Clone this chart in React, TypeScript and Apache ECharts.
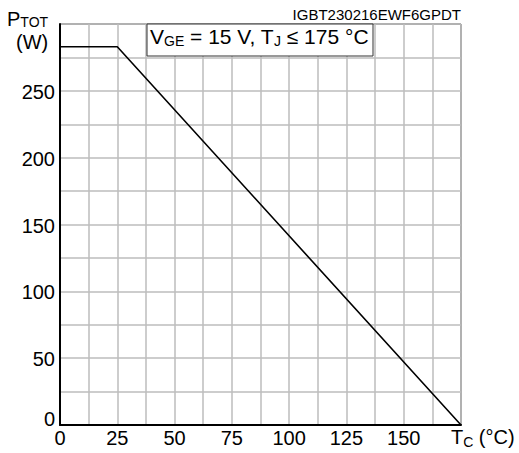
import React, { useEffect, useRef } from "react";
import * as echarts from "echarts";

const tempC = [0, 25, 175];
const powerW = [283, 283, 0];
const xTickLabels = ["0", "25", "50", "75", "100", "125", "150"];
const yTickLabels = ["0", "50", "100", "150", "200", "250"];
const partId = "IGBT230216EWF6GPDT";

const FONT = "Arial, 'Liberation Sans', sans-serif";

export default function App() {
  const ref = useRef<HTMLDivElement>(null);
  useEffect(() => {
    if (!ref.current) return;
    const chart = echarts.init(ref.current, null, { renderer: "svg" });
    const option: any = {
      animation: false,
      backgroundColor: "#ffffff",
      textStyle: { fontFamily: FONT },
      grid: {
        left: 60,
        right: 58,
        top: 24,
        bottom: 28,
        show: true,
        borderColor: "#222",
        borderWidth: 1,
      },
      xAxis: {
        type: "value",
        min: 0,
        max: 175,
        interval: 12.5,
        axisLine: { show: true, onZero: false, lineStyle: { color: "#000", width: 2 } },
        axisTick: { show: false },
        splitLine: { show: true, lineStyle: { color: "#bdbdbd", width: 1.5 } },
        axisLabel: {
          margin: 3,
          fontSize: 20,
          color: "#000",
          fontFamily: FONT,
          formatter: (v: number) => {
            const s = String(v);
            return xTickLabels.includes(s) ? s : "";
          },
        },
      },
      yAxis: {
        type: "value",
        min: 0,
        max: 300,
        interval: 25,
        axisLine: { show: true, onZero: false, lineStyle: { color: "#000", width: 2 } },
        axisTick: { show: false },
        splitLine: { show: true, lineStyle: { color: "#bdbdbd", width: 1.5 } },
        axisLabel: {
          margin: 5,
          fontSize: 20,
          color: "#000",
          fontFamily: FONT,
          formatter: (v: number) => {
            const s = String(v);
            if (!yTickLabels.includes(s)) return "";
            if (v === 0) return "{z|0}";
            return "{n|" + s + "}";
          },
          rich: {
            z: { fontSize: 20, fontFamily: FONT, color: "#000", padding: [0, 0, 12, 0] },
            n: { fontSize: 20, fontFamily: FONT, color: "#000", padding: [2, 0, 0, 0] },
          },
        },
      },
      series: [
        {
          type: "line",
          data: tempC.map((t, i) => [t, powerW[i]]),
          symbol: "none",
          lineStyle: { color: "#000", width: 1.6 },
          z: 5,
        },
      ],
      graphic: [
        {
          type: "rect",
          shape: { x: 147, y: 24, width: 226, height: 32 },
          style: { fill: "#fff", stroke: "#333", lineWidth: 1 },
          z: 10,
        },
        {
          type: "text",
          left: 150,
          top: 26,
          z: 11,
          style: {
            text: "{a|V}{s|GE}{a| = 15 V, T}{s|J}{a| ≤ 175 °C}",
            rich: {
              a: { fontSize: 21, fontFamily: FONT, fill: "#000", verticalAlign: "bottom" },
              s: { fontSize: 14, fontFamily: FONT, fill: "#000", verticalAlign: "bottom", padding: [0, 0, -1, 0] },
            },
          },
        },
        {
          type: "text",
          right: 58,
          top: 7,
          z: 11,
          style: { text: partId, fontSize: 15, fontFamily: FONT, fill: "#000" },
        },
        {
          type: "text",
          left: 7,
          top: 9,
          z: 11,
          style: {
            text: "{p|P}{s|TOT}",
            rich: {
              p: { fontSize: 20, fontFamily: FONT, fill: "#000", verticalAlign: "bottom" },
              s: { fontSize: 14, fontFamily: FONT, fill: "#000", verticalAlign: "bottom" },
            },
          },
        },
        {
          type: "text",
          left: 16,
          top: 32,
          z: 11,
          style: { text: "(W)", fontSize: 20, fontFamily: FONT, fill: "#000" },
        },
        {
          type: "text",
          left: 451,
          top: 427,
          z: 11,
          style: {
            text: "{a|T}{s|C}{a| (°C)}",
            rich: {
              a: { fontSize: 20, fontFamily: FONT, fill: "#000", verticalAlign: "bottom" },
              s: { fontSize: 14, fontFamily: FONT, fill: "#000", verticalAlign: "bottom", padding: [0, 0, -2, 0] },
            },
          },
        },
      ],
    };
    chart.setOption(option);
    return () => chart.dispose();
  }, []);
  return (
    <div
      ref={ref}
      style={{ position: "fixed", left: 0, top: 0, width: 519, height: 453 }}
    />
  );
}
